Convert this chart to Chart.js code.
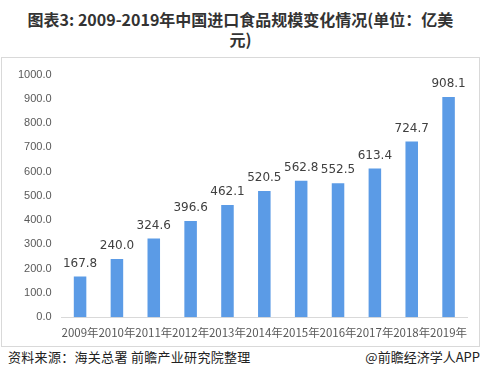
<!DOCTYPE html>
<html>
<head>
<meta charset="utf-8">
<script src="https://cdn.jsdelivr.net/npm/chart.js@4"></script>
<style>
  body { margin: 0; background: #fff; width: 481px; height: 387px; overflow: hidden; font-family: "Noto Sans CJK SC", sans-serif; }
  #title { position: absolute; top: 9px; left: 0; width: 481px; text-align: center; font-size: 16px; font-weight: bold; color: #333; line-height: 20px; }
  #box { position: absolute; left: 1px; top: 57px; width: 477px; height: 288px; border: 1px solid #d9d9d9; }
  #src { position: absolute; left: 8px; top: 347px; font-size: 13px; color: #222; letter-spacing: 0.3px; }
  #app { position: absolute; right: 1px; top: 347px; font-size: 13px; color: #222; }
</style>
</head>
<body>
<div id="title">图表3: 2009-2019年中国进口食品规模变化情况(单位：亿美<br>元)</div>
<div id="box"><canvas id="c"></canvas></div>
<div id="src">资料来源：海关总署 前瞻产业研究院整理</div>
<div id="app">@前瞻经济学人APP</div>
<script>
// 年份和进口规模（亿美元）
const years = ['2009年', '2010年', '2011年', '2012年', '2013年', '2014年', '2015年', '2016年', '2017年', '2018年', '2019年'];
const values = [167.8, 240.0, 324.6, 396.6, 462.1, 520.5, 562.8, 552.5, 613.4, 724.7, 908.1];

// 柱子上方的数值
const barLabels = {
    id: 'barLabels',
    afterDatasetsDraw(chart) {
        const ctx = chart.ctx;
        const meta = chart.getDatasetMeta(0);
        ctx.save();
        ctx.font = '12px "DejaVu Sans", sans-serif';
        ctx.fillStyle = '#404040';
        ctx.textAlign = 'center';
        ctx.textBaseline = 'bottom';
        meta.data.forEach((bar, i) => {
            ctx.fillText(values[i].toFixed(1), bar.x, bar.y - 7);
        });
        ctx.restore();
    }
};

new Chart(document.getElementById('c'), {
    type: 'bar',
    data: {
        labels: years,
        datasets: [{
            data: values,
            backgroundColor: '#5b9be6',
            categoryPercentage: 1,
            barPercentage: 0.34
        }]
    },
    options: {
        responsive: true,
        maintainAspectRatio: false,
        animation: false,
        layout: { padding: { left: 6, right: 12, top: 11, bottom: -3 } },
        plugins: { legend: { display: false }, tooltip: { enabled: false } },
        scales: {
            x: {
                grid: { display: false, drawTicks: false },
                border: { color: '#d9d9d9' },
                ticks: { color: '#595959', font: { size: 11.5, family: '"Noto Sans CJK SC", sans-serif' }, maxRotation: 0, autoSkip: false, padding: 9 }
            },
            y: {
                min: 0,
                max: 1000,
                grid: { display: false, drawTicks: false },
                border: { display: false },
                ticks: { stepSize: 100, color: '#595959', font: { size: 11, family: '"Liberation Sans", sans-serif' }, padding: 10,
                    callback: v => v.toFixed(1) }
            }
        }
    },
    plugins: [barLabels]
});
</script>
</body>
</html>
